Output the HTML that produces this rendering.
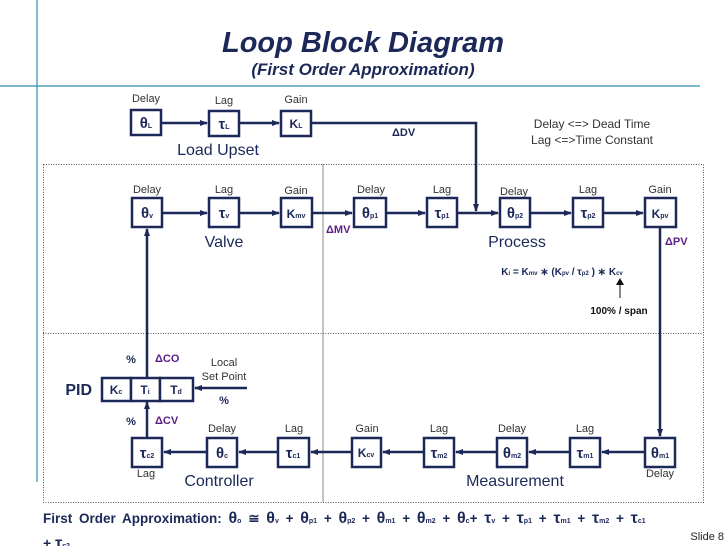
<!DOCTYPE html>
<html><head><meta charset="utf-8"><style>
body{margin:0;background:#fff}
svg{display:block;font-family:"Liberation Sans",Arial,sans-serif}
.l{font-size:11px;fill:#333;text-anchor:middle}
.b{font-weight:bold;fill:#1b2858;text-anchor:middle;font-size:15px}
.s{font-size:7px}
.p{font-weight:bold;fill:#5b1f86;font-size:11px}
.g{font-size:16px;fill:#1b2858;text-anchor:middle}
rect.bx{fill:#fff;stroke:#1b2858;stroke-width:2.5}
.ln{stroke:#1b2858;stroke-width:2.5;fill:none}
</style></head><body>
<svg width="728" height="546" viewBox="0 0 728 546">
<defs><marker id="a" markerWidth="8" markerHeight="8" refX="7" refY="4" orient="auto" markerUnits="userSpaceOnUse"><path d="M0,1 L8,4 L0,7z" fill="#1b2858"/></marker></defs>
<line x1="37" y1="0" x2="37" y2="482" stroke="#2a8fb0" stroke-width="1.2"/>
<line x1="0" y1="86" x2="700" y2="86" stroke="#2a8fb0" stroke-width="1.2"/>
<text x="363" y="52" text-anchor="middle" font-size="29" font-weight="bold" font-style="italic" fill="#1b2858">Loop Block Diagram</text>
<text x="363" y="75" text-anchor="middle" font-size="17" font-weight="bold" font-style="italic" fill="#1b2858">(First Order Approximation)</text>
<g stroke="#555" stroke-width="1" stroke-dasharray="1,1.5" fill="none">
<rect x="43.5" y="164.5" width="660" height="338"/>
<line x1="43" y1="333.5" x2="703" y2="333.5"/>
</g>
<line x1="323" y1="164" x2="323" y2="502" stroke="#888" stroke-width="1"/>
<g class="ln">
<path d="M161,123 H207" marker-end="url(#a)"/><path d="M239,123 H279" marker-end="url(#a)"/>
<path d="M311,123 H476 V211" marker-end="url(#a)"/>
<path d="M162,213 H207" marker-end="url(#a)"/><path d="M239,213 H279" marker-end="url(#a)"/>
<path d="M312,213 H352" marker-end="url(#a)"/><path d="M386,213 H425" marker-end="url(#a)"/>
<path d="M457,213 H498" marker-end="url(#a)"/><path d="M530,213 H571" marker-end="url(#a)"/>
<path d="M603,213 H643" marker-end="url(#a)"/>
<path d="M660,227 V436" marker-end="url(#a)"/>
<path d="M645,452 H602" marker-end="url(#a)"/><path d="M570,452 H529" marker-end="url(#a)"/>
<path d="M497,452 H456" marker-end="url(#a)"/><path d="M424,452 H383" marker-end="url(#a)"/>
<path d="M352,452 H311" marker-end="url(#a)"/><path d="M278,452 H239" marker-end="url(#a)"/>
<path d="M207,452 H164" marker-end="url(#a)"/>
<path d="M147,438 V402" marker-end="url(#a)"/><path d="M147,378 V229" marker-end="url(#a)"/>
<path d="M247,388 H195" marker-end="url(#a)"/>
</g>
<line x1="620" y1="298" x2="620" y2="283" stroke="#888" stroke-width="2"/><path d="M616,285 L620,278 L624,285z" fill="#111"/>
<g>
<rect class="bx" x="131" y="110" width="30" height="25"/><rect class="bx" x="209" y="111" width="30" height="25"/><rect class="bx" x="281" y="111" width="30" height="25"/>
<rect class="bx" x="132" y="198" width="30" height="29"/><rect class="bx" x="209" y="198" width="30" height="29"/><rect class="bx" x="281" y="198" width="31" height="29"/>
<rect class="bx" x="354" y="198" width="32" height="29"/><rect class="bx" x="427" y="198" width="30" height="29"/><rect class="bx" x="500" y="198" width="30" height="29"/>
<rect class="bx" x="573" y="198" width="30" height="29"/><rect class="bx" x="645" y="198" width="31" height="29"/>
<rect class="bx" x="645" y="438" width="30" height="29"/><rect class="bx" x="570" y="438" width="30" height="29"/><rect class="bx" x="497" y="438" width="30" height="29"/>
<rect class="bx" x="424" y="438" width="30" height="29"/><rect class="bx" x="352" y="438" width="29" height="29"/><rect class="bx" x="278" y="438" width="31" height="29"/>
<rect class="bx" x="207" y="438" width="30" height="29"/><rect class="bx" x="132" y="438" width="30" height="29"/>
<rect class="bx" x="102" y="378" width="29" height="23"/><rect class="bx" x="131" y="378" width="29" height="23"/><rect class="bx" x="160" y="378" width="33" height="23"/>
</g>
<g class="b">
<text x="146" y="128">θ<tspan class="s">L</tspan></text><text x="224" y="129">τ<tspan class="s">L</tspan></text><text x="296" y="128" font-size="12">K<tspan class="s">L</tspan></text>
<text x="147" y="218">θ<tspan class="s">v</tspan></text><text x="224" y="218">τ<tspan class="s">v</tspan></text><text x="296" y="218" font-size="12">K<tspan class="s">mv</tspan></text>
<text x="370" y="218">θ<tspan class="s">p1</tspan></text><text x="442" y="218">τ<tspan class="s">p1</tspan></text><text x="515" y="218">θ<tspan class="s">p2</tspan></text>
<text x="588" y="218">τ<tspan class="s">p2</tspan></text><text x="660" y="218" font-size="12">K<tspan class="s">pv</tspan></text>
<text x="660" y="458">θ<tspan class="s">m1</tspan></text><text x="585" y="458">τ<tspan class="s">m1</tspan></text><text x="512" y="458">θ<tspan class="s">m2</tspan></text>
<text x="439" y="458">τ<tspan class="s">m2</tspan></text><text x="366" y="457" font-size="12">K<tspan class="s">cv</tspan></text><text x="293" y="458">τ<tspan class="s">c1</tspan></text>
<text x="222" y="458">θ<tspan class="s">c</tspan></text><text x="147" y="458">τ<tspan class="s">c2</tspan></text>
<text x="116" y="394" font-size="12">K<tspan class="s">c</tspan></text><text x="145" y="394" font-size="12">T<tspan class="s">i</tspan></text><text x="176" y="394" font-size="12">T<tspan class="s">d</tspan></text>
</g>
<g class="l">
<text x="146" y="102">Delay</text><text x="224" y="104">Lag</text><text x="296" y="103">Gain</text>
<text x="147" y="193">Delay</text><text x="224" y="193">Lag</text><text x="296" y="194">Gain</text>
<text x="371" y="193">Delay</text><text x="442" y="193">Lag</text><text x="514" y="195">Delay</text><text x="588" y="193">Lag</text><text x="660" y="193">Gain</text>
<text x="367" y="432">Gain</text><text x="439" y="432">Lag</text><text x="512" y="432">Delay</text><text x="585" y="432">Lag</text><text x="660" y="477">Delay</text>
<text x="294" y="432">Lag</text><text x="222" y="432">Delay</text><text x="146" y="477">Lag</text>
<text x="224" y="366">Local</text><text x="224" y="380">Set Point</text>
<text x="224" y="404" font-weight="bold" fill="#1b2858">%</text><text x="131" y="363" font-weight="bold" fill="#1b2858">%</text><text x="131" y="425" font-weight="bold" fill="#1b2858">%</text>
<text x="592" y="128" font-size="12">Delay &lt;=&gt; Dead Time</text><text x="592" y="144" font-size="12">Lag &lt;=&gt;Time Constant</text>
</g>
<g class="g"><text x="218" y="155">Load Upset</text><text x="224" y="247">Valve</text><text x="517" y="247">Process</text><text x="219" y="486">Controller</text><text x="515" y="486">Measurement</text></g>
<text x="92" y="395" text-anchor="end" font-size="16" font-weight="bold" fill="#1b2858">PID</text>
<g class="p"><text x="392" y="136" fill="#1b2858">ΔDV</text><text x="326" y="233">ΔMV</text><text x="665" y="245">ΔPV</text><text x="155" y="362">ΔCO</text><text x="155" y="424">ΔCV</text></g>
<text x="562" y="275" font-size="10" font-weight="bold" fill="#1b2858" text-anchor="middle">K<tspan font-size="6">i</tspan> = K<tspan font-size="6">mv</tspan> ∗ (K<tspan font-size="6">pv</tspan> / τ<tspan font-size="6">p2</tspan> ) ∗ K<tspan font-size="6">cv</tspan></text>
<text x="619" y="314" font-size="10" font-weight="bold" fill="#111" text-anchor="middle">100% / span</text>
<text x="43" y="523" font-size="13.5" font-weight="bold" fill="#1b2858" word-spacing="3">First Order Approximation: <tspan font-size="16">θ</tspan><tspan font-size="7">o</tspan> ≅ <tspan font-size="16">θ</tspan><tspan font-size="7">v</tspan> + <tspan font-size="16">θ</tspan><tspan font-size="7">p1</tspan> + <tspan font-size="16">θ</tspan><tspan font-size="7">p2</tspan> + <tspan font-size="16">θ</tspan><tspan font-size="7">m1</tspan> + <tspan font-size="16">θ</tspan><tspan font-size="7">m2</tspan> + <tspan font-size="16">θ</tspan><tspan font-size="7">c</tspan>+ <tspan font-size="16">τ</tspan><tspan font-size="7">v</tspan> + <tspan font-size="16">τ</tspan><tspan font-size="7">p1</tspan> + <tspan font-size="16">τ</tspan><tspan font-size="7">m1</tspan> + <tspan font-size="16">τ</tspan><tspan font-size="7">m2</tspan> + <tspan font-size="16">τ</tspan><tspan font-size="7">c1</tspan></text>
<text x="43" y="548" font-size="14" font-weight="bold" fill="#1b2858">+ <tspan font-size="16">τ</tspan><tspan font-size="7">c2</tspan></text>
<text x="724" y="540" text-anchor="end" font-size="11" fill="#222">Slide 8</text>
</svg>
</body></html>
